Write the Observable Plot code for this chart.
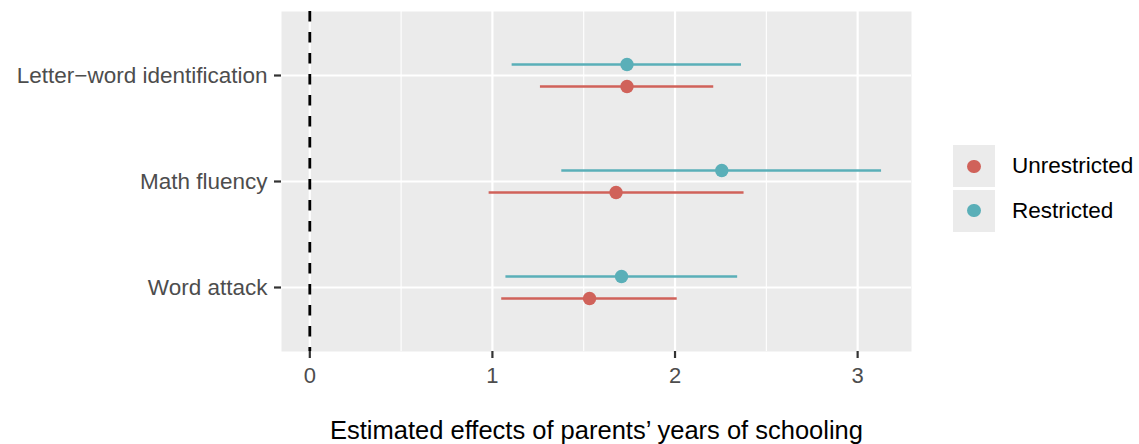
<!DOCTYPE html>
<html>
<head>
<meta charset="utf-8">
<script src="https://cdn.jsdelivr.net/npm/d3@7"></script>
<script src="https://cdn.jsdelivr.net/npm/@observablehq/plot@0.6"></script>
<style>
  html, body { margin: 0; padding: 0; background: #fff; }
  #wrap { position: relative; width: 1139px; height: 444px; font-family: "Liberation Sans", Arial, Helvetica, sans-serif; }
  #legend { position: absolute; left: 953px; top: 144px; }
  .row { display: flex; align-items: center; height: 44.5px; }
  .key { width: 42px; height: 42px; background: #EBEBEB; display: flex; align-items: center; justify-content: center; margin: 1px 0; }
  .dot { width: 13.4px; height: 13.4px; border-radius: 50%; }
  .lab { margin-left: 17px; font-size: 22.5px; color: #000; }
</style>
</head>
<body>
<div id="wrap"></div>
<script>
// ---- data ----
const categories = ["Letter\u2212word identification", "Math fluency", "Word attack"];
const groups = ["Unrestricted", "Restricted"];
const colors = ["#D0625A", "#5AAFB8"];
const unrestrictedEst = [1.737, 1.677, 1.532];
const unrestrictedLo  = [1.263, 0.982, 1.051];
const unrestrictedHi  = [2.212, 2.378, 2.012];
const restrictedEst   = [1.737, 2.256, 1.707];
const restrictedLo    = [1.108, 1.380, 1.074];
const restrictedHi    = [2.364, 3.131, 2.343];
const xTicks = [0, 1, 2, 3];
const xMinor = [0.5, 1.5, 2.5];
const refLine = [0];
const xLabel = "Estimated effects of parents\u2019 years of schooling";

const rows = [];
categories.forEach((c, i) => {
  rows.push({cat: c, group: groups[0], est: unrestrictedEst[i], lo: unrestrictedLo[i], hi: unrestrictedHi[i]});
  rows.push({cat: c, group: groups[1], est: restrictedEst[i], lo: restrictedLo[i], hi: restrictedHi[i]});
});
const U = rows.filter(d => d.group === groups[0]);
const R = rows.filter(d => d.group === groups[1]);
const offU = 11, offR = -11;

const chart = Plot.plot({
  width: 1139,
  height: 444,
  marginLeft: 281,
  marginRight: 228,
  marginTop: 11,
  marginBottom: 93,
  style: {fontFamily: "'Liberation Sans', Arial, Helvetica, sans-serif", background: "white", overflow: "visible"},
  x: {domain: [-0.155, 3.295]},
  y: {type: "point", domain: categories, padding: 0.6},
  color: {domain: groups, range: colors},
  marks: [
    Plot.frame({fill: "#EBEBEB", stroke: "none"}),
    Plot.gridX(xMinor, {stroke: "white", strokeOpacity: 1, strokeWidth: 1.1}),
    Plot.gridX(xTicks, {stroke: "white", strokeOpacity: 1, strokeWidth: 2.2}),
    Plot.gridY(categories, {stroke: "white", strokeOpacity: 1, strokeWidth: 2.2}),
    Plot.ruleX(refLine, {stroke: "black", strokeWidth: 2.8, strokeDasharray: "10.5,10.5"}),
    Plot.ruleY(R, {y: "cat", x1: "lo", x2: "hi", stroke: "group", strokeWidth: 2.7, dy: offR}),
    Plot.ruleY(U, {y: "cat", x1: "lo", x2: "hi", stroke: "group", strokeWidth: 2.7, dy: offU}),
    Plot.dot(R, {x: "est", y: "cat", fill: "group", r: 6.7, dy: offR}),
    Plot.dot(U, {x: "est", y: "cat", fill: "group", r: 6.7, dy: offU}),
    Plot.axisX({ticks: xTicks, tickFormat: d3.format("d"), tickSize: 7, tickPadding: 8.5, fontSize: 22, stroke: "#333333", fill: "#4D4D4D", strokeWidth: 2.2, label: null}),
    Plot.axisY({tickSize: 7, tickPadding: 7, fontSize: 22.5, stroke: "#333333", fill: "#4D4D4D", strokeWidth: 2.2, label: null}),
    Plot.text([xLabel], {frameAnchor: "bottom", lineAnchor: "bottom", dy: 87, fontSize: 25.5, fill: "black"})
  ]
});

const wrap = document.getElementById("wrap");
wrap.appendChild(chart);

const legend = document.createElement("div");
legend.id = "legend";
groups.forEach((g, i) => {
  const row = document.createElement("div");
  row.className = "row";
  const key = document.createElement("div");
  key.className = "key";
  const dot = document.createElement("div");
  dot.className = "dot";
  dot.style.background = colors[i];
  key.appendChild(dot);
  const lab = document.createElement("span");
  lab.className = "lab";
  lab.textContent = g;
  row.appendChild(key);
  row.appendChild(lab);
  legend.appendChild(row);
});
wrap.appendChild(legend);
</script>
</body>
</html>
